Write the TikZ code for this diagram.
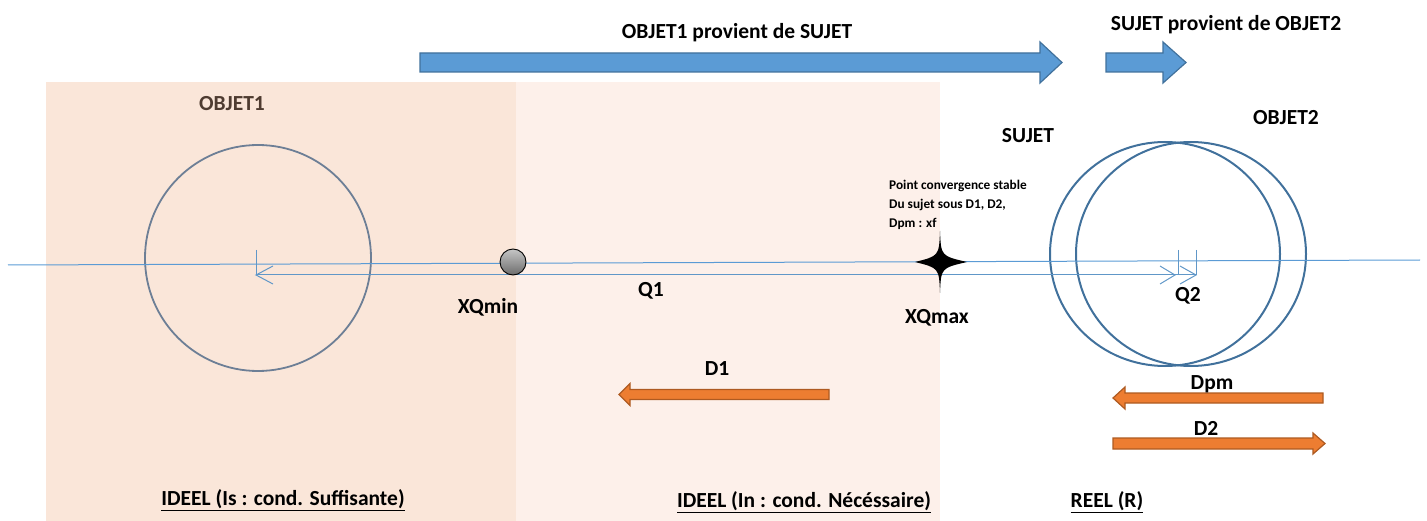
\documentclass[tikz,border=0pt]{standalone}
\usepackage{fontspec}
\setmainfont{Carlito}
\usetikzlibrary{shapes.geometric}
\definecolor{peachA}{RGB}{250,230,217}
\definecolor{peachB}{RGB}{253,240,234}
\definecolor{blueF}{RGB}{91,155,213}
\definecolor{blueD}{RGB}{65,113,156}
\definecolor{orF}{RGB}{237,125,49}
\definecolor{orD}{RGB}{174,90,33}
\definecolor{grayblue}{RGB}{109,127,150}
\definecolor{axis}{RGB}{91,155,213}
\definecolor{brownT}{RGB}{78,59,48}
\tikzset{
  lbl/.style={font=\bfseries\fontsize{21.5}{24}\selectfont, inner sep=0pt},
  small/.style={font=\bfseries\fontsize{13.3}{19}\selectfont, inner sep=0pt, align=left},
  bigarrow/.style={fill=blueF, draw=blueD, line width=1.2pt, line join=miter},
  orarrow/.style={fill=orF, draw=orD, line width=1.2pt, line join=miter},
  dimline/.style={draw=axis!85!gray, line width=1pt},
}
\begin{document}
\begin{tikzpicture}[x=1pt,y=-1pt]
\useasboundingbox (0,0) rectangle (1427,521);
% backgrounds
\fill[peachA] (46,82) rectangle (516,521);
\fill[peachB] (516,82) rectangle (940,521);
% blue arrows
\draw[bigarrow] (420,53) -- (1040,53) -- (1040,42) -- (1062,62.5) -- (1040,83) -- (1040,72) -- (420,72) -- cycle;
\draw[bigarrow] (1106,53) -- (1163,53) -- (1163,42) -- (1186,62.5) -- (1163,83) -- (1163,72) -- (1106,72) -- cycle;
\node[lbl] (t1) at (737,33) {OBJET1 provient de SUJET};
\node[lbl] (t2) at (1226,25) {SUJET provient de OBJET2};
% circles
\node[draw=grayblue, line width=1.8pt, circle, minimum size=226pt, inner sep=0pt] (obj1) at (258,258) {};
\node[lbl, text=brownT] (lobj1) at (232,104) {OBJET1};
\node[draw=blueD, line width=2pt, ellipse, minimum width=230pt, minimum height=224pt, inner sep=0pt] (suj) at (1165,254) {};
\node[draw=blueD, line width=2pt, ellipse, minimum width=230pt, minimum height=224pt, inner sep=0pt] (obj2) at (1191,254) {};
\node[lbl] (lsuj) at (1028,136) {SUJET};
\node[lbl] (lobj2) at (1286,118) {OBJET2};
% axis
\coordinate (axL) at (8,265);
\coordinate (axR) at (1420,260);
\draw[draw=axis, line width=1pt] (axL) -- (axR);
% dimension line Q1 / Q2
\coordinate (q1a) at (256,275);
\coordinate (q2b) at (1196,275);
\coordinate (q2a) at (1178,275);
\draw[dimline] (q1a) -- (q2b);
\draw[dimline] (q1a) ++(0,-25) -- (q1a);
\draw[dimline] (q1a) ++(17,-9) -- (q1a) -- ++(17,9);
\draw[dimline] (q2a) ++(0,-25) -- (q2a);
\draw[dimline] (q2b) ++(0,-25) -- (q2b);
\coordinate (h1) at (1175,275);
\draw[dimline] (h1) ++(-15,-9) -- (h1) -- ++(-15,9);
\draw[dimline] (q2b) ++(-16,-9) -- (q2b) -- ++(-16,9);
\node[lbl] (lq1) at (651,291) {Q1};
\node[lbl] (lq2) at (1188,296) {Q2};
% ball
\coordinate (ball) at (513,262);
\shade[top color=gray!45, bottom color=gray!85!black] (ball) circle (13);
\draw[black, line width=0.9pt] (ball) circle (13);
\node[lbl] (lxmin) at (488,307) {XQmin};
% star
\coordinate (xf) at (940,262);
\fill[black] (940,231) .. controls (941,256) .. (967,262) .. controls (941,268) .. (940,293) .. controls (939,268) .. (915,262) .. controls (939,256) .. (940,231) -- cycle;
\node[lbl] (lxmax) at (937,318) {XQmax};
\node[small, anchor=north west] (pc) at (889,180) {Point convergence stable\\Du sujet sous D1, D2,\\Dpm : xf};
% orange arrows
\draw[orarrow] (829,389.5) -- (630,389.5) -- (630,383.5) -- (619,394.5) -- (630,405.5) -- (630,399.5) -- (829,399.5) -- cycle;
\node[lbl] (ld1) at (717,369) {D1};
\draw[orarrow] (1323,393) -- (1125,393) -- (1125,387) -- (1113,398) -- (1125,409) -- (1125,403) -- (1323,403) -- cycle;
\node[lbl] (ldpm) at (1212,384) {Dpm};
\draw[orarrow] (1113,438) -- (1313,438) -- (1313,433) -- (1325,443.5) -- (1313,454) -- (1313,449) -- (1113,449) -- cycle;
\node[lbl] (ld2) at (1206,428) {D2};
% bottom labels
\node[lbl] (b1) at (283,500) {\underline{IDEEL (Is : cond. Suffisante)}};
\node[lbl] (b2) at (804,502) {\underline{IDEEL (In : cond. Nécéssaire)}};
\node[lbl] (b3) at (1107,502) {\underline{REEL (R)}};
\end{tikzpicture}
\end{document}
